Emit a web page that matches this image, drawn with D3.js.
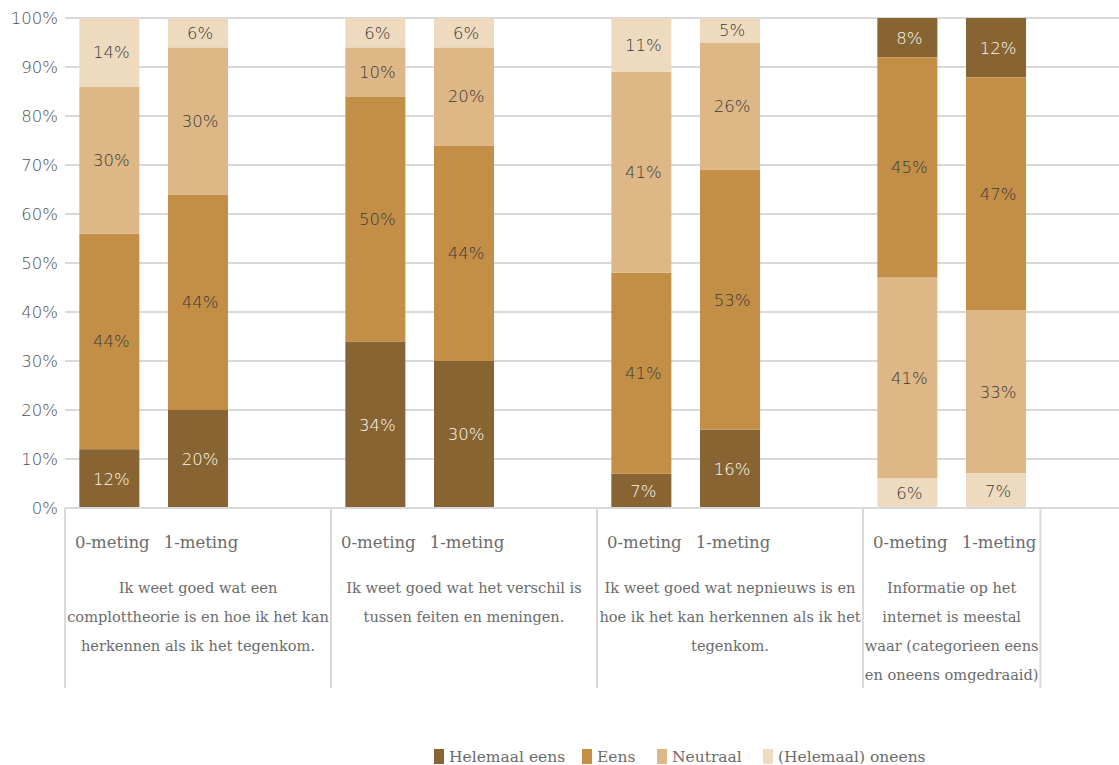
<!DOCTYPE html>
<html>
<head>
<meta charset="utf-8">
<script src="https://cdn.jsdelivr.net/npm/d3@7"></script>
<style>
  html, body { margin: 0; padding: 0; background: #fff; }
  svg { display: block; }
</style>
</head>
<body>
<svg id="chart" width="1119" height="765"></svg>
<script>
// Statements (each wrapped over several lines) and the two measurement moments
const statements = [
  ["Ik weet goed wat een", "complottheorie is en hoe ik het kan", "herkennen als ik het tegenkom."],
  ["Ik weet goed wat het verschil is", "tussen feiten en meningen."],
  ["Ik weet goed wat nepnieuws is en", "hoe ik het kan herkennen als ik het", "tegenkom."],
  ["Informatie op het", "internet is meestal", "waar (categorieen eens", "en oneens omgedraaid)"]
];
const measurements = ["0-meting", "1-meting"];
// The last statement stacks its answers the other way round
const reversedStack = [false, false, false, true];

const seriesNames = ["Helemaal eens", "Eens", "Neutraal", "(Helemaal) oneens"];
const seriesColors = ["#876431", "#C38F46", "#DDB785", "#EEDABF"];
const labelColors = ["#FFF9F0", "#3A3A3A", "#3A3A3A", "#3A3A3A"];

// Percentages per bar: statement 1 (0-meting, 1-meting), statement 2, ...
const helemaalEens = [12, 20, 34, 30, 7, 16, 8, 12];
const eens         = [44, 44, 50, 44, 41, 53, 45, 47];
const neutraal     = [30, 30, 10, 20, 41, 26, 41, 33];
const oneens       = [14, 6, 6, 6, 11, 5, 6, 7];

const yTicks = [0, 0.1, 0.2, 0.3, 0.4, 0.5, 0.6, 0.7, 0.8, 0.9, 1];

const svg = d3.select("#chart");
const plotLeft = 65, plotTop = 18, plotBottom = 508;
const slotW = 88.67;

// Each statement takes three slots (two bars + a gap); the last gap is dropped, one trailing empty slot
const slots = [];
const groupEndSlot = [];
statements.forEach((s, g) => {
  measurements.forEach((m, i) => slots.push(`s${g}-${i}`));
  if (g < statements.length - 1) slots.push(`s${g}-gap`);
  groupEndSlot.push(slots[slots.length - 1]);
});
slots.push("end");

const x = d3.scaleBand().domain(slots)
  .range([plotLeft, plotLeft + slots.length * slotW])
  .paddingInner(0.323).paddingOuter(0.1615);
const y = d3.scaleLinear().domain([0, 1]).range([plotBottom, plotTop]);

const sansFont = "'DejaVu Sans', sans-serif";
const slabFont = "'DejaVu Serif', serif";

// Gridlines
svg.append("g").selectAll("line").data(yTicks).join("line")
  .attr("x1", plotLeft).attr("x2", 1119)
  .attr("y1", d => y(d)).attr("y2", d => y(d))
  .attr("stroke", "#D9D9D9").attr("stroke-width", 2);

// Y axis labels
const yAxis = d3.axisLeft(y).tickValues(yTicks).tickFormat(d3.format(".0%")).tickSize(0).tickPadding(7);
svg.append("g").attr("transform", `translate(${plotLeft},0)`).call(yAxis)
  .call(g => g.select(".domain").remove())
  .selectAll("text")
  .attr("font-family", sansFont).attr("font-size", 16.5).attr("font-weight", 200)
  .attr("fill", "#505050");

// Build bar rows
const rows = [];
statements.forEach((s, g) => {
  measurements.forEach((m, i) => {
    const k = g * measurements.length + i;
    rows.push({
      slot: `s${g}-${i}`, group: g, label: m,
      "Helemaal eens": helemaalEens[k], "Eens": eens[k],
      "Neutraal": neutraal[k], "(Helemaal) oneens": oneens[k]
    });
  });
});

const stackNormal = d3.stack().keys(seriesNames).offset(d3.stackOffsetExpand);
const stackReversed = d3.stack().keys(seriesNames).order(d3.stackOrderReverse).offset(d3.stackOffsetExpand);

const segments = [];
[false, true].forEach(rev => {
  const subset = rows.filter(r => reversedStack[r.group] === rev);
  if (!subset.length) return;
  const layers = (rev ? stackReversed : stackNormal)(subset);
  layers.forEach(layer => {
    const si = seriesNames.indexOf(layer.key);
    layer.forEach(p => segments.push({
      slot: p.data.slot, series: si, value: p.data[layer.key], y0: p[0], y1: p[1]
    }));
  });
});

const bars = svg.append("g");
bars.selectAll("rect").data(segments).join("rect")
  .attr("x", d => x(d.slot))
  .attr("width", x.bandwidth())
  .attr("y", d => y(d.y1))
  .attr("height", d => y(d.y0) - y(d.y1))
  .attr("fill", d => seriesColors[d.series]);

bars.selectAll("text").data(segments).join("text")
  .attr("x", d => x(d.slot) + x.bandwidth() / 2 + 2)
  .attr("y", d => y((d.y0 + d.y1) / 2))
  .attr("dy", "0.36em")
  .attr("text-anchor", "middle")
  .attr("font-family", sansFont).attr("font-size", 16.5).attr("font-weight", 200)
  .attr("fill", d => labelColors[d.series])
  .text(d => d.value + "%");

// Category axis: baseline and dividers between statements
svg.append("line").attr("x1", plotLeft).attr("x2", 1119)
  .attr("y1", plotBottom).attr("y2", plotBottom)
  .attr("stroke", "#D9D9D9").attr("stroke-width", 2);

const slotEnd = s => x(s) + x.bandwidth() + x.step() * x.paddingOuter();
const dividerX = [plotLeft].concat(groupEndSlot.map(slotEnd));
svg.append("g").selectAll("line").data(dividerX).join("line")
  .attr("x1", d => d).attr("x2", d => d)
  .attr("y1", plotBottom).attr("y2", 688)
  .attr("stroke", "#D9D9D9").attr("stroke-width", 2);

// Measurement labels under each bar
svg.append("g").selectAll("text").data(rows).join("text")
  .attr("x", d => x(d.slot) + x.bandwidth() / 2 + 3)
  .attr("y", 542).attr("dy", "0.35em")
  .attr("text-anchor", "middle")
  .attr("font-family", slabFont).attr("font-size", 16.5)
  .attr("fill", "#6B6B6B")
  .text(d => d.label);

// Statement labels centred under their group
statements.forEach((lines, g) => {
  const cx = (dividerX[g] + dividerX[g + 1]) / 2;
  svg.append("g").selectAll("text").data(lines).join("text")
    .attr("x", cx)
    .attr("y", (d, i) => 588 + i * 29).attr("dy", "0.35em")
    .attr("text-anchor", "middle")
    .attr("font-family", slabFont).attr("font-size", 14.6)
    .attr("fill", "#6B6B6B")
    .text(d => d);
});

// Legend
const legendX = [434, 582, 657, 763];
const legend = svg.append("g").selectAll("g").data(seriesNames).join("g")
  .attr("transform", (d, i) => `translate(${legendX[i]},749)`);
legend.append("rect").attr("width", 10).attr("height", 15)
  .attr("fill", (d, i) => seriesColors[i]);
legend.append("text").attr("x", 15).attr("y", 8).attr("dy", "0.35em")
  .attr("font-family", slabFont).attr("font-size", 15.5)
  .attr("fill", "#6B6B6B")
  .text(d => d);
</script>
</body>
</html>
